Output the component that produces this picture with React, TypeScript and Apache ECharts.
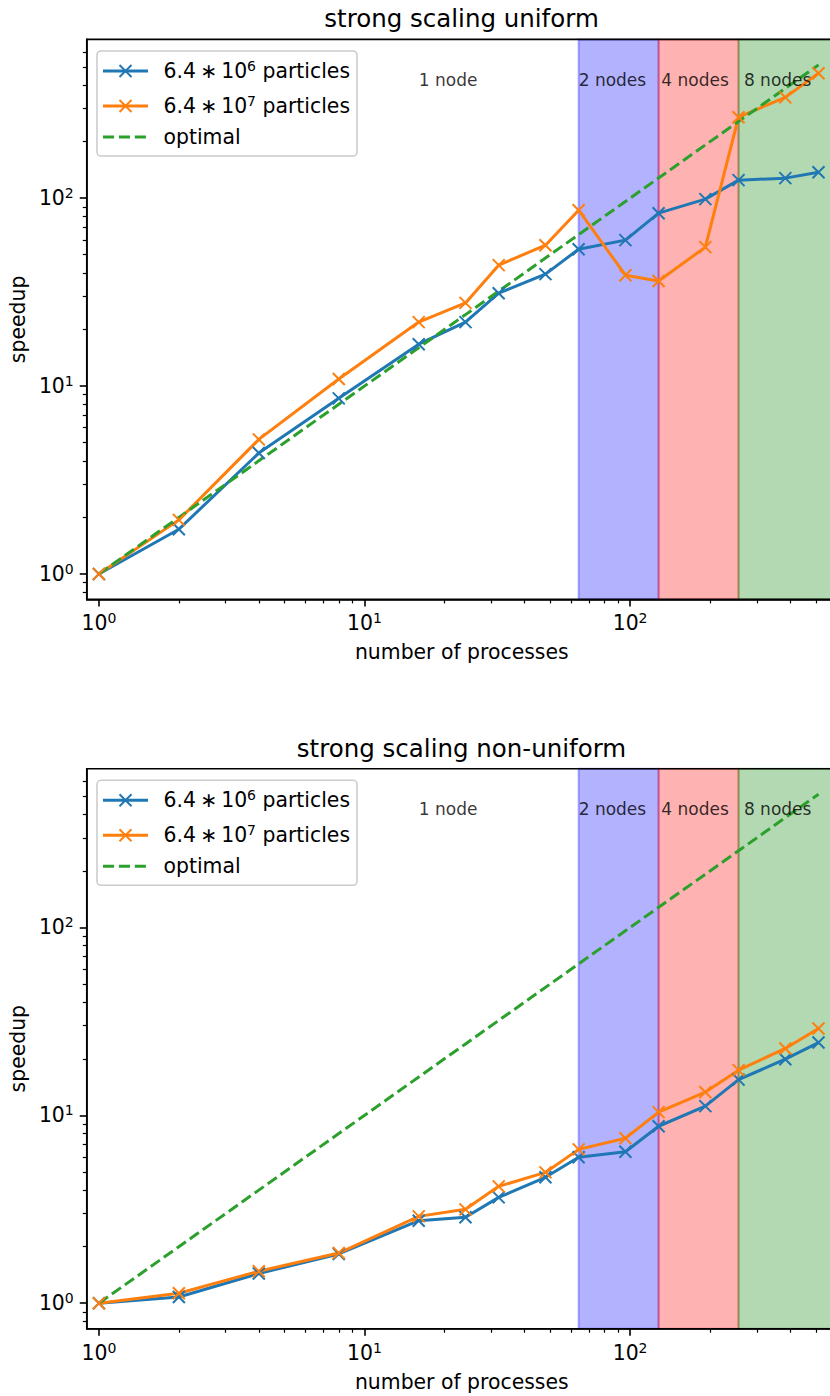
import React, { useEffect, useRef } from "react";
import * as echarts from "echarts";

// ---------- data ----------
const procs = [1, 2, 4, 8, 16, 24, 32, 48, 64, 96, 128, 192, 256, 384, 512];
const uniformSmall = [1, 1.73, 4.4, 8.6, 16.7, 21.9, 31.2, 39.4, 53.5, 59.8, 83.2, 98.8, 124.7, 127.8, 137.5];
const uniformLarge = [1, 1.94, 5.2, 10.9, 21.9, 27.7, 44.0, 56.2, 86.3, 38.9, 36.2, 54.9, 269.8, 344, 462];
const nonUniformSmall = [1, 1.08, 1.44, 1.83, 2.75, 2.87, 3.66, 4.68, 5.98, 6.4, 8.75, 11.2, 15.5, 19.9, 24.4];
const nonUniformLarge = [1, 1.13, 1.48, 1.85, 2.9, 3.16, 4.19, 4.97, 6.59, 7.55, 10.4, 13.3, 17.4, 22.7, 29.0];
const optimal = [1, 2, 4, 8, 16, 24, 32, 48, 64, 96, 128, 192, 256, 384, 512];

const panelTitles = ["strong scaling uniform", "strong scaling non-uniform"];
const legendNames = ["6.4 * 10^6 particles", "6.4 * 10^7 particles", "optimal"];
const legendRich = [
  "{n|6.4\u2009\u2217\u200910}{s|6}{n| particles}",
  "{n|6.4\u2009\u2217\u200910}{s|7}{n| particles}",
  "{n|optimal}",
];
const xName = "number of processes";
const yName = "speedup";

const nodeSpans = [
  [64, 128],
  [128, 256],
  [256, 1024],
];
const spanColors = ["rgba(0,0,255,0.3)", "rgba(255,0,0,0.3)", "rgba(0,128,0,0.3)"];
const nodeLabels = ["1 node", "2 nodes", "4 nodes", "8 nodes"];
const nodeLabelX = [16, 64, 131, 268];
const nodeLabelY = 425;

const xMajorTicks = [1, 10, 100];
const xMinorTicks = [2, 3, 4, 5, 6, 7, 8, 9, 20, 30, 40, 50, 60, 70, 80, 90, 200, 300, 400, 500];
const yMajorTicks = [1, 10, 100];
const yMinorTicks = [0.8, 0.9, 2, 3, 4, 5, 6, 7, 8, 9, 20, 30, 40, 50, 60, 70, 80, 90, 200, 300, 400, 500, 600];
const xRange = [0.9, 600];
const yRange = [0.732, 699.8];

// ---------- styling ----------
const FONT = "DejaVu Sans";
const C0 = "#1f77b4";
const C1 = "#ff7f0e";
const C2 = "#2ca02c";
const X_SYMBOL = "path://M0 0L10 10M10 0L0 10";
const GRID_LEFT = 86.2;
const GRID_W = 750.6;
const GRID_H = 560;
const GRID_TOPS = [39.4, 768.7];
const PANEL_DY = 729.3;

const tickRich = {
  b: { fontSize: 20.4, lineHeight: 24, fontFamily: FONT, color: "#000" },
  s: { fontSize: 14, lineHeight: 14, fontFamily: FONT, color: "#000", verticalAlign: "top" },
};
const powFormatter = (v: number) => `{b|10}{s|${Math.round(Math.log10(v))}}`;

function buildOption() {
  const grid: any[] = [];
  const xAxis: any[] = [];
  const yAxis: any[] = [];
  const series: any[] = [];
  const title: any[] = [];
  const graphic: any[] = [];
  const panels = [
    [uniformSmall, uniformLarge],
    [nonUniformSmall, nonUniformLarge],
  ];

  panels.forEach((vals, p) => {
    const top = GRID_TOPS[p];
    grid.push({
      left: GRID_LEFT,
      top,
      width: GRID_W,
      height: GRID_H,
      show: true,
      borderColor: "#000",
      borderWidth: 1.6,
      backgroundColor: "transparent",
      z: 6,
    });
    title.push({
      text: panelTitles[p],
      left: GRID_LEFT + GRID_W / 2,
      top: top - 33,
      textAlign: "center",
      padding: 0,
      textStyle: { fontSize: 24.5, fontWeight: "normal", color: "#000", fontFamily: FONT },
    });
    // major x axis
    xAxis.push({
      gridIndex: p,
      type: "log",
      logBase: 10,
      min: xRange[0],
      max: xRange[1],
      position: "bottom",
      z: 6,
      axisLine: { show: true, lineStyle: { color: "#000", width: 1.6 } },
      axisTick: { show: true, customValues: xMajorTicks, length: 7, lineStyle: { color: "#000", width: 1.6 } },
      axisLabel: { show: true, customValues: xMajorTicks, formatter: powFormatter, rich: tickRich, margin: 12 },
      splitLine: { show: false },
      minorTick: { show: false },
      name: xName,
      nameLocation: "middle",
      nameGap: 43,
      nameTextStyle: { fontSize: 20.4, color: "#000", fontFamily: FONT },
    });
    // minor x axis
    xAxis.push({
      gridIndex: p,
      type: "log",
      logBase: 10,
      min: xRange[0],
      max: xRange[1],
      position: "bottom",
      z: 6,
      axisLine: { show: false },
      axisTick: { show: true, customValues: xMinorTicks, length: 4, lineStyle: { color: "#000", width: 1.2 } },
      axisLabel: { show: false },
      splitLine: { show: false },
    });
    yAxis.push({
      gridIndex: p,
      type: "log",
      logBase: 10,
      min: yRange[0],
      max: yRange[1],
      position: "left",
      z: 6,
      axisLine: { show: true, lineStyle: { color: "#000", width: 1.6 } },
      axisTick: { show: true, customValues: yMajorTicks, length: 7, lineStyle: { color: "#000", width: 1.6 } },
      axisLabel: { show: true, customValues: yMajorTicks, formatter: powFormatter, rich: tickRich, margin: 13 },
      splitLine: { show: false },
      minorTick: { show: false },
      name: yName,
      nameLocation: "middle",
      nameRotate: 90,
      nameGap: 56,
      nameTextStyle: { fontSize: 20.4, color: "#000", fontFamily: FONT },
    });
    yAxis.push({
      gridIndex: p,
      type: "log",
      logBase: 10,
      min: yRange[0],
      max: yRange[1],
      position: "left",
      z: 6,
      axisLine: { show: false },
      axisTick: { show: true, customValues: yMinorTicks, length: 4, lineStyle: { color: "#000", width: 1.2 } },
      axisLabel: { show: false },
      splitLine: { show: false },
    });

    const xi = p * 2;
    const yi = p * 2;
    // node spans
    series.push({
      type: "line",
      name: "spans" + p,
      xAxisIndex: xi,
      yAxisIndex: yi,
      data: [],
      silent: true,
      z: 1,
      markArea: {
        silent: true,
        data: nodeSpans.map((s, i) => [
          { xAxis: s[0], itemStyle: { color: spanColors[i], borderColor: spanColors[i], borderWidth: 2 } },
          { xAxis: s[1] },
        ]),
      },
    });
    const lineDefs = [
      { data: vals[0], color: C0 },
      { data: vals[1], color: C1 },
    ];
    lineDefs.forEach((d, k) => {
      series.push({
        type: "line",
        name: legendNames[k],
        xAxisIndex: xi,
        yAxisIndex: yi,
        data: procs.map((x, i) => [x, d.data[i]]),
        symbol: X_SYMBOL,
        symbolSize: 12,
        showSymbol: true,
        silent: true,
        z: 2,
        lineStyle: { color: d.color, width: 3, join: "round", cap: "butt" },
        itemStyle: { color: d.color, borderColor: d.color, borderWidth: 2 },
      });
    });
    series.push({
      type: "line",
      name: legendNames[2],
      xAxisIndex: xi,
      yAxisIndex: yi,
      data: procs.map((x, i) => [x, optimal[i]]),
      symbol: "none",
      silent: true,
      z: 2,
      lineStyle: { color: C2, width: 3, type: [11.1, 4.8], cap: "butt" },
    });
    series.push({
      type: "scatter",
      name: "nodes" + p,
      xAxisIndex: xi,
      yAxisIndex: yi,
      silent: true,
      z: 4,
      symbolSize: 0.1,
      itemStyle: { color: "transparent" },
      data: nodeLabels.map((n, i) => ({ name: n, value: [nodeLabelX[i], nodeLabelY] })),
      label: {
        show: true,
        position: "right",
        distance: 0,
        formatter: "{b}",
        fontSize: 17,
        fontFamily: FONT,
        color: "#000",
        verticalAlign: "middle",
      },
    });

    // legend box (matplotlib style)
    const dy = p * PANEL_DY;
    const rows = [71, 106, 137].map((y) => y + dy);
    const children: any[] = [
      {
        type: "rect",
        shape: { x: 97, y: 51 + dy, width: 260, height: 105, r: 4 },
        style: { fill: "rgba(255,255,255,0.8)", stroke: "#cccccc", lineWidth: 1.6 },
      },
    ];
    const cols = [C0, C1, C2];
    rows.forEach((y, k) => {
      children.push({
        type: "line",
        shape: { x1: 103, y1: y, x2: 148, y2: y },
        style: k === 2
          ? { stroke: cols[k], lineWidth: 3, lineDash: [11.1, 4.8] }
          : { stroke: cols[k], lineWidth: 3 },
      });
      if (k < 2) {
        children.push({
          type: "line",
          shape: { x1: 119.5, y1: y - 6, x2: 131.5, y2: y + 6 },
          style: { stroke: cols[k], lineWidth: 2 },
        });
        children.push({
          type: "line",
          shape: { x1: 119.5, y1: y + 6, x2: 131.5, y2: y - 6 },
          style: { stroke: cols[k], lineWidth: 2 },
        });
      }
      children.push({
        type: "text",
        x: 163.5,
        y,
        style: {
          text: legendRich[k],
          align: "left",
          verticalAlign: "middle",
          fill: "#000",
          rich: {
            n: { fontSize: 20.4, lineHeight: 24, fontFamily: FONT, fill: "#000", color: "#000" },
            s: { fontSize: 14, lineHeight: 14, fontFamily: FONT, fill: "#000", color: "#000", verticalAlign: "top" },
          },
        },
      });
    });
    graphic.push({ type: "group", z: 20, children });
  });

  return {
    animation: false,
    backgroundColor: "#fff",
    textStyle: { fontFamily: FONT },
    title,
    grid,
    xAxis,
    yAxis,
    series,
    graphic,
  };
}

export default function App() {
  const ref = useRef<HTMLDivElement>(null);
  useEffect(() => {
    if (!ref.current) return;
    const chart = echarts.init(ref.current, undefined, { renderer: "svg" });
    chart.setOption(buildOption() as any);
    return () => chart.dispose();
  }, []);
  return (
    <div
      style={{
        position: "absolute",
        left: 0,
        top: 0,
        width: 830,
        height: 1396,
        overflow: "hidden",
        background: "#fff",
      }}
    >
      <div ref={ref} style={{ width: 870, height: 1396 }} />
    </div>
  );
}
